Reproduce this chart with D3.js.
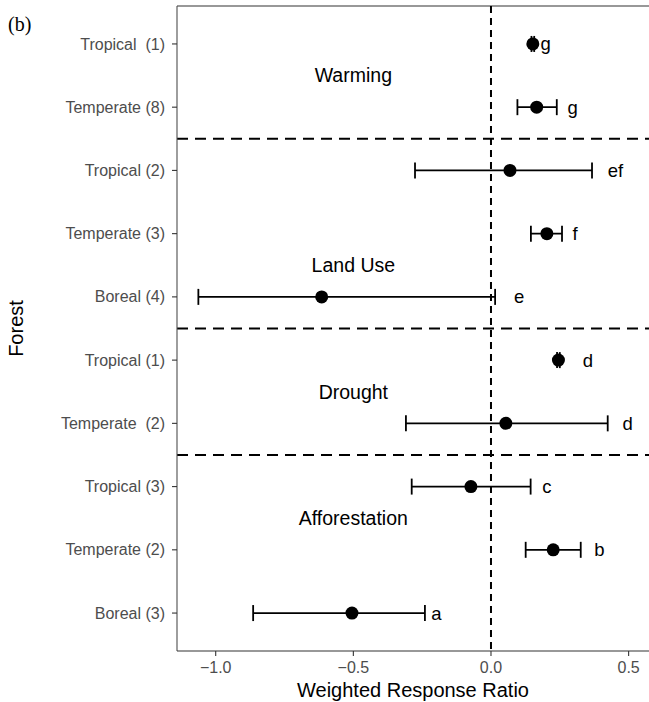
<!DOCTYPE html>
<html>
<head>
<meta charset="utf-8">
<script src="https://cdn.jsdelivr.net/npm/d3@7"></script>
<style>
  html, body { margin: 0; padding: 0; background: #fff; }
  svg { display: block; font-family: "Liberation Sans", Arial, Helvetica, sans-serif; }
</style>
</head>
<body>
<svg id="chart" width="649" height="702"></svg>
<script>
// Forest categories, top to bottom
const forests = ["Tropical  (1)", "Temperate (8)", "Tropical (2)", "Temperate (3)", "Boreal (4)",
                 "Tropical (1)", "Temperate  (2)", "Tropical (3)", "Temperate (2)", "Boreal (3)"];
// Weighted response ratio (mean) and confidence limits
const means = [0.152, 0.166, 0.069, 0.203, -0.615, 0.245, 0.054, -0.073, 0.226, -0.505];
const lower = [0.147, 0.096, -0.276, 0.145, -1.063, 0.240, -0.309, -0.288, 0.126, -0.864];
const upper = [0.157, 0.239, 0.367, 0.258, 0.015, 0.250, 0.424, 0.144, 0.326, -0.240];
// Significance letters and where they sit on the x axis
const letters = ["g", "g", "ef", "f", "e", "d", "d", "c", "b", "a"];
const letterX = [0.199, 0.297, 0.452, 0.305, 0.102, 0.352, 0.496, 0.203, 0.394, -0.198];
// Driver groups: label and the row position (in category units) of its title
const groups = ["Warming", "Land Use", "Drought", "Afforestation"];
const groupPos = [0.5, 3.5, 5.5, 7.5];
const separators = [1.5, 4.5, 6.5];
const xTicks = [-1.0, -0.5, 0.0, 0.5];

const svg = d3.select("#chart");
const pLeft = 177, pRight = 649, pTop = 6, pBottom = 651;

const x = d3.scaleLinear().domain([-1.1406, 0.574]).range([pLeft, pRight]);
// discrete rows mapped to a continuous scale with ggplot-style 0.6 expansion
const y = d3.scaleLinear().domain([-0.6, forests.length - 1 + 0.6]).range([pTop, pBottom]);

const g = svg.append("g");

// top frame line
g.append("line").attr("x1", pLeft).attr("x2", pRight).attr("y1", pTop).attr("y2", pTop)
  .attr("stroke", "#333").attr("stroke-width", 1.1);

// zero reference line
g.append("line").attr("x1", x(0)).attr("x2", x(0)).attr("y1", pTop).attr("y2", pBottom)
  .attr("stroke", "#000").attr("stroke-width", 2).attr("stroke-dasharray", "7,5");

// group separators
g.selectAll(".sep").data(separators).join("line")
  .attr("x1", pLeft).attr("x2", pRight)
  .attr("y1", d => y(d)).attr("y2", d => y(d))
  .attr("stroke", "#000").attr("stroke-width", 2).attr("stroke-dasharray", "11,7");

// error bars, points and significance letters
const rows = forests.map((f, i) => ({ i, f, m: means[i], lo: lower[i], hi: upper[i], l: letters[i], lx: letterX[i] }));
const bars = g.selectAll(".bar").data(rows).join("g");
bars.append("line").attr("x1", d => x(d.lo)).attr("x2", d => x(d.hi))
  .attr("y1", d => y(d.i)).attr("y2", d => y(d.i)).attr("stroke", "#000").attr("stroke-width", 1.8);
bars.append("line").attr("x1", d => x(d.lo)).attr("x2", d => x(d.lo))
  .attr("y1", d => y(d.i) - 8).attr("y2", d => y(d.i) + 8).attr("stroke", "#000").attr("stroke-width", 1.8);
bars.append("line").attr("x1", d => x(d.hi)).attr("x2", d => x(d.hi))
  .attr("y1", d => y(d.i) - 8).attr("y2", d => y(d.i) + 8).attr("stroke", "#000").attr("stroke-width", 1.8);
bars.append("circle").attr("cx", d => x(d.m)).attr("cy", d => y(d.i)).attr("r", 6.5).attr("fill", "#000");
bars.append("text").attr("x", d => x(d.lx)).attr("y", d => y(d.i)).attr("dy", "0.35em")
  .attr("text-anchor", "middle").attr("font-size", 18.5).attr("fill", "#000").text(d => d.l);

// group titles
g.selectAll(".grp").data(groups).join("text")
  .attr("x", x(-0.5)).attr("y", (d, i) => y(groupPos[i])).attr("dy", "0.35em")
  .attr("text-anchor", "middle").attr("font-size", 19.5).attr("fill", "#000").text(d => d);

// y axis
const yAxis = g.append("g").attr("transform", `translate(${pLeft},0)`);
yAxis.append("line").attr("x1", 0).attr("x2", 0).attr("y1", pTop).attr("y2", pBottom)
  .attr("stroke", "#4d4d4d").attr("stroke-width", 1.1);
const yt = yAxis.selectAll(".yt").data(forests).join("g")
  .attr("transform", (d, i) => `translate(0,${y(i)})`);
yt.append("line").attr("x1", -5).attr("x2", 0).attr("stroke", "#333").attr("stroke-width", 1.1);
yt.append("text").attr("x", -12).attr("dy", "0.35em").attr("text-anchor", "end")
  .attr("font-size", 16).attr("fill", "#4d4d4d").style("white-space", "pre").text(d => d);

// x axis
const xAxis = g.append("g").attr("transform", `translate(0,${pBottom})`);
xAxis.append("line").attr("x1", pLeft).attr("x2", pRight).attr("stroke", "#333").attr("stroke-width", 1.1);
const xt = xAxis.selectAll(".xt").data(xTicks).join("g")
  .attr("transform", d => `translate(${x(d)},0)`);
xt.append("line").attr("y1", 0).attr("y2", 5).attr("stroke", "#333").attr("stroke-width", 1.1);
xt.append("text").attr("y", 11).attr("dy", "0.71em").attr("text-anchor", "middle")
  .attr("font-size", 16).attr("fill", "#4d4d4d").text(d => d3.format(".1f")(d).replace("-", "\u2212"));

// axis titles
svg.append("text").attr("x", (pLeft + pRight) / 2).attr("y", 690).attr("dy", "0.35em")
  .attr("text-anchor", "middle").attr("font-size", 20).attr("fill", "#000").text("Weighted Response Ratio");
svg.append("text").attr("transform", `translate(16,${(pTop + pBottom) / 2}) rotate(-90)`)
  .attr("dy", "0.35em").attr("text-anchor", "middle").attr("font-size", 20).attr("fill", "#000").text("Forest");

// panel tag
svg.append("text").attr("x", 8).attr("y", 31).attr("font-family", "'Liberation Serif', 'Times New Roman', serif")
  .attr("font-size", 20).attr("fill", "#000").text("(b)");
</script>
</body>
</html>
